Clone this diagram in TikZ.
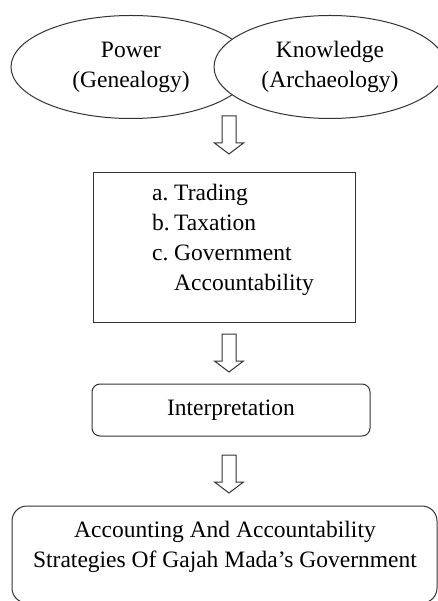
\documentclass[tikz,border=0pt]{standalone}
\usepackage{fontspec}
\setmainfont{Liberation Serif}
\usetikzlibrary{calc,shapes.geometric}
\begin{document}
\begin{tikzpicture}[x=1pt,y=-1pt,
  line/.style={draw=black!80,line width=1pt},
  txt/.style={font=\fontsize{23.5}{30}\selectfont,align=center,inner sep=0pt},
  oval/.style={line,ellipse,fill=white,inner sep=0pt,font=\fontsize{23.5}{30}\selectfont,align=center},
  boxed/.style={line,rectangle,inner sep=0pt},
  rbox/.style={line,rectangle,rounded corners=#1,inner sep=0pt},
  harrow/.pic={\draw[line,fill=white] (-7,0) -- (7,0) -- (7,27) -- (14.5,27) -- (0,38) -- (-14.5,27) -- (-7,27) -- cycle;}
]
\useasboundingbox (0,0) rectangle (438,601);
\fill[white] (0,0) rectangle (438,601);
% ellipses
\node[oval,minimum width=240,minimum height=103] (P) at (131,67) {Power\\(Genealogy)};
\node[oval,minimum width=232,minimum height=103] (K) at (330,67) {Knowledge\\(Archaeology)};
% list box
\node[boxed,minimum width=262,minimum height=149] (items) at (224,247.5) {};
\node[txt,align=left,anchor=west] (itemtext) at (152,240)
  {\makebox[22pt][l]{a.}Trading\\\makebox[22pt][l]{b.}Taxation\\\makebox[22pt][l]{c.}Government\\\makebox[22pt][l]{}Accountability};
% interpretation
\node[rbox=8pt,minimum width=278,minimum height=52,font=\fontsize{23.5}{30}\selectfont] (interp) at (231,410) {Interpretation};
% final box
\node[rbox=15pt,minimum width=425,minimum height=97] (final) at (224.5,554.5) {};
\node[txt] (finaltext) at (225,547) {Accounting And Accountability\\Strategies Of Gajah Mada’s Government};
% hollow arrows
\coordinate (a1) at (229,116);
\coordinate (a2) at (229,334);
\coordinate (a3) at (229,455);
\pic at (a1) {harrow};
\pic at (a2) {harrow};
\pic at (a3) {harrow};
\end{tikzpicture}
\end{document}
